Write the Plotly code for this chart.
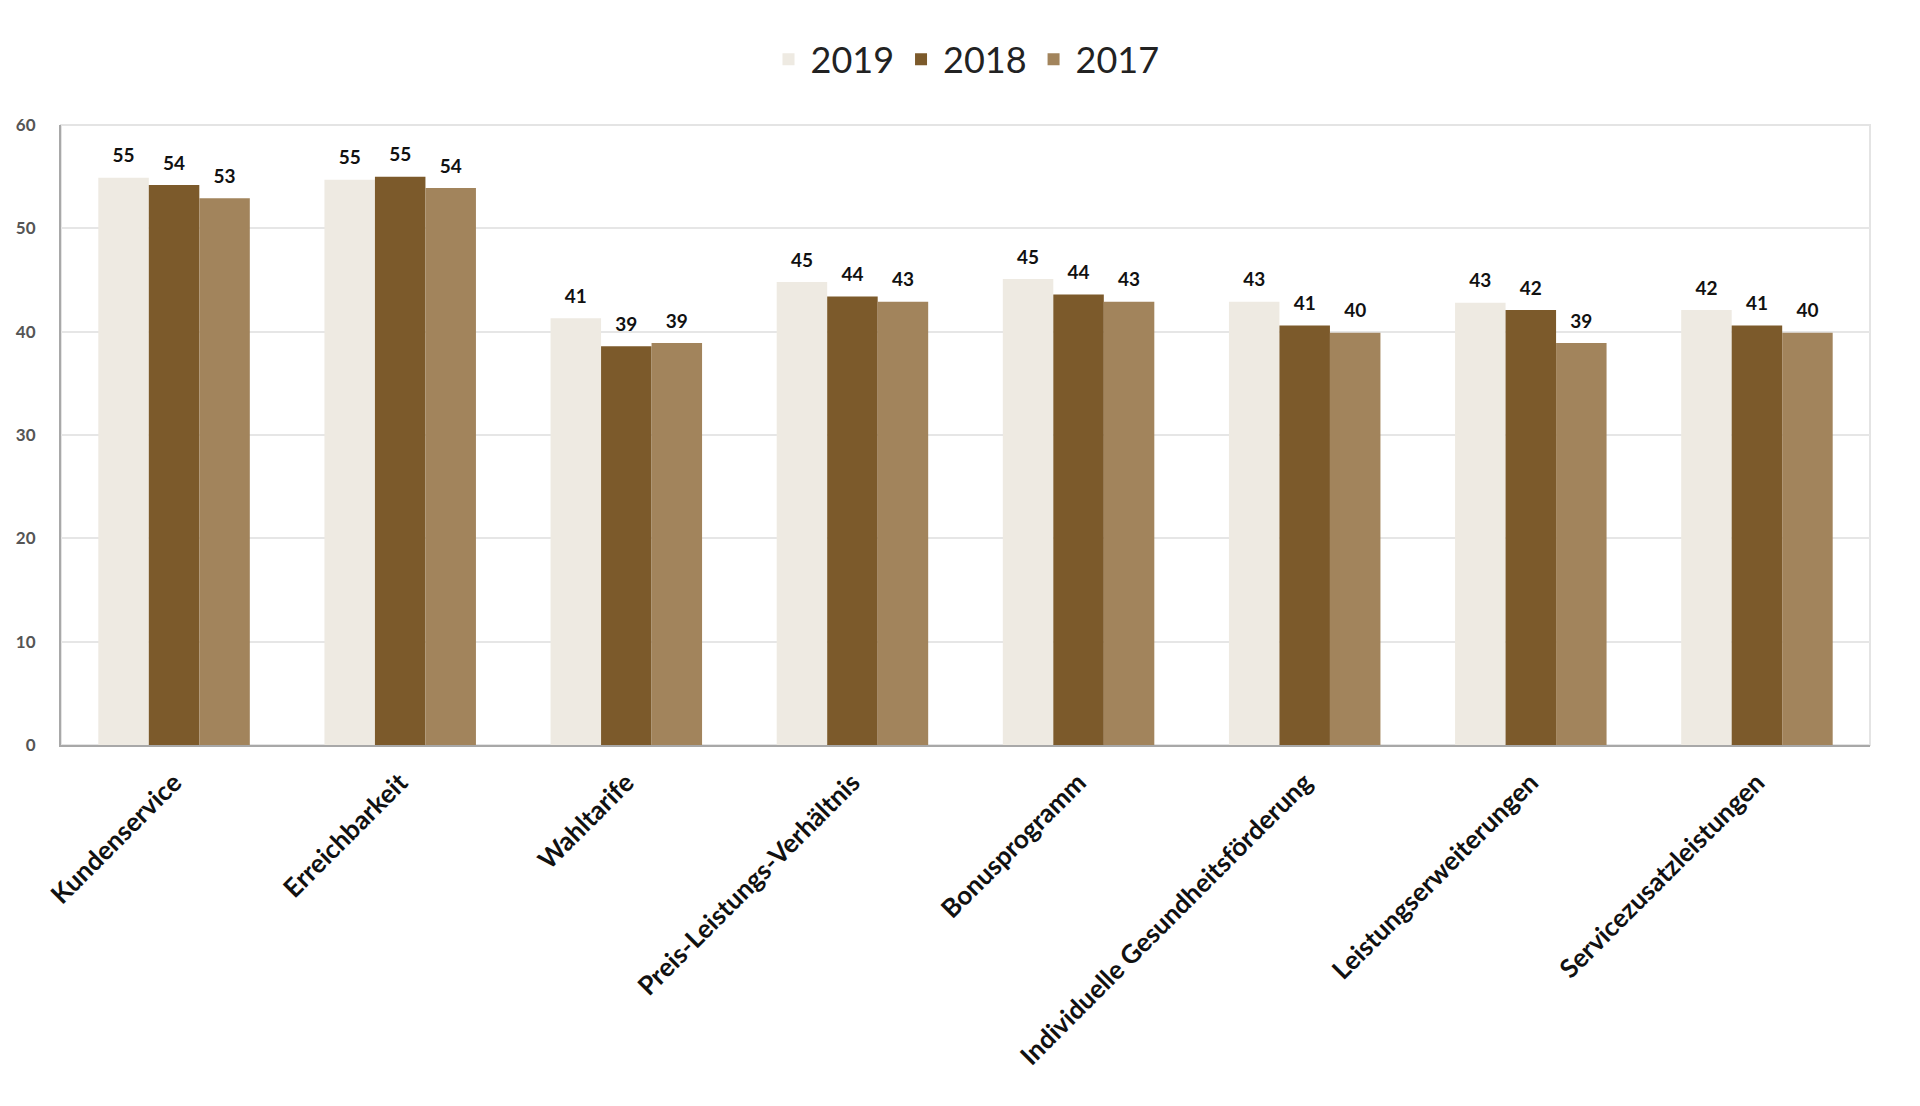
import plotly.graph_objects as go

categories = ["Kundenservice", "Erreichbarkeit", "Wahltarife", "Preis-Leistungs-Verhältnis",
              "Bonusprogramm", "Individuelle Gesundheitsförderung", "Leistungserweiterungen",
              "Servicezusatzleistungen"]
years = ["2019", "2018", "2017"]
values_2019 = [54.9, 54.7, 41.3, 44.8, 45.1, 42.9, 42.8, 42.1]
values_2018 = [54.2, 55.0, 38.6, 43.4, 43.6, 40.6, 42.1, 40.6]
values_2017 = [52.9, 53.9, 38.9, 42.9, 42.9, 39.9, 38.9, 39.9]
labels_2019 = [55, 55, 41, 45, 45, 43, 43, 42]
labels_2018 = [54, 55, 39, 44, 44, 41, 42, 41]
labels_2017 = [53, 54, 39, 43, 43, 40, 39, 40]
y_ticks = [0, 10, 20, 30, 40, 50, 60]

colors = ["#EEEAE2", "#7C5A2B", "#A2845C"]
series = [values_2019, values_2018, values_2017]
labels = [labels_2019, labels_2018, labels_2017]

FONT = "Lato"
fig = go.Figure()
for name, vals, labs, col in zip(years, series, labels, colors):
    fig.add_trace(go.Bar(
        name=name, x=categories, y=vals,
        text=[str(v) for v in labs], textposition="outside",
        texttemplate="<span style='font-size:19px'>%{text}</span><br><span style='color:rgba(255,255,255,0)'>.</span>",
        textfont=dict(family=FONT, size=8, color="#111111", weight="bold"),
        cliponaxis=False,
        marker=dict(color=col, line=dict(width=0)),
    ))

fig.update_layout(
    width=1920, height=1106,
    barmode="group", bargap=0.33, bargroupgap=0,
    plot_bgcolor="white", paper_bgcolor="white",
    margin=dict(l=61, r=50, t=125, b=361),
    font=dict(family=FONT),
    legend=dict(orientation="h", x=0.5, xanchor="center", y=1.106, yanchor="middle",
                font=dict(family=FONT, size=36, color="#222222"),
                itemwidth=34, traceorder="normal"),
    showlegend=True,
    uniformtext=dict(mode=False),
)
fig.update_xaxes(
    tickangle=-45, showline=True, linecolor="#A8A8A8", linewidth=2,
    mirror=False, showgrid=False,
    tickfont=dict(family=FONT, size=26, color="#111111", weight="bold"),
    ticklabelstandoff=10,
)
fig.update_yaxes(
    range=[0, 60], tickvals=y_ticks, showgrid=True, gridcolor="#E6E6E6", gridwidth=1.5,
    showline=True, linecolor="#A8A8A8", linewidth=2, zeroline=False,
    tickfont=dict(family=FONT, size=17, color="#555555", weight="bold"),
    ticklabelstandoff=20,
)
# light frame on top and right
fig.add_shape(type="rect", xref="paper", yref="paper", x0=0, x1=1, y0=0, y1=1,
              line=dict(color="#E4E4E4", width=2), layer="below")

fig.write_html("out.html")
